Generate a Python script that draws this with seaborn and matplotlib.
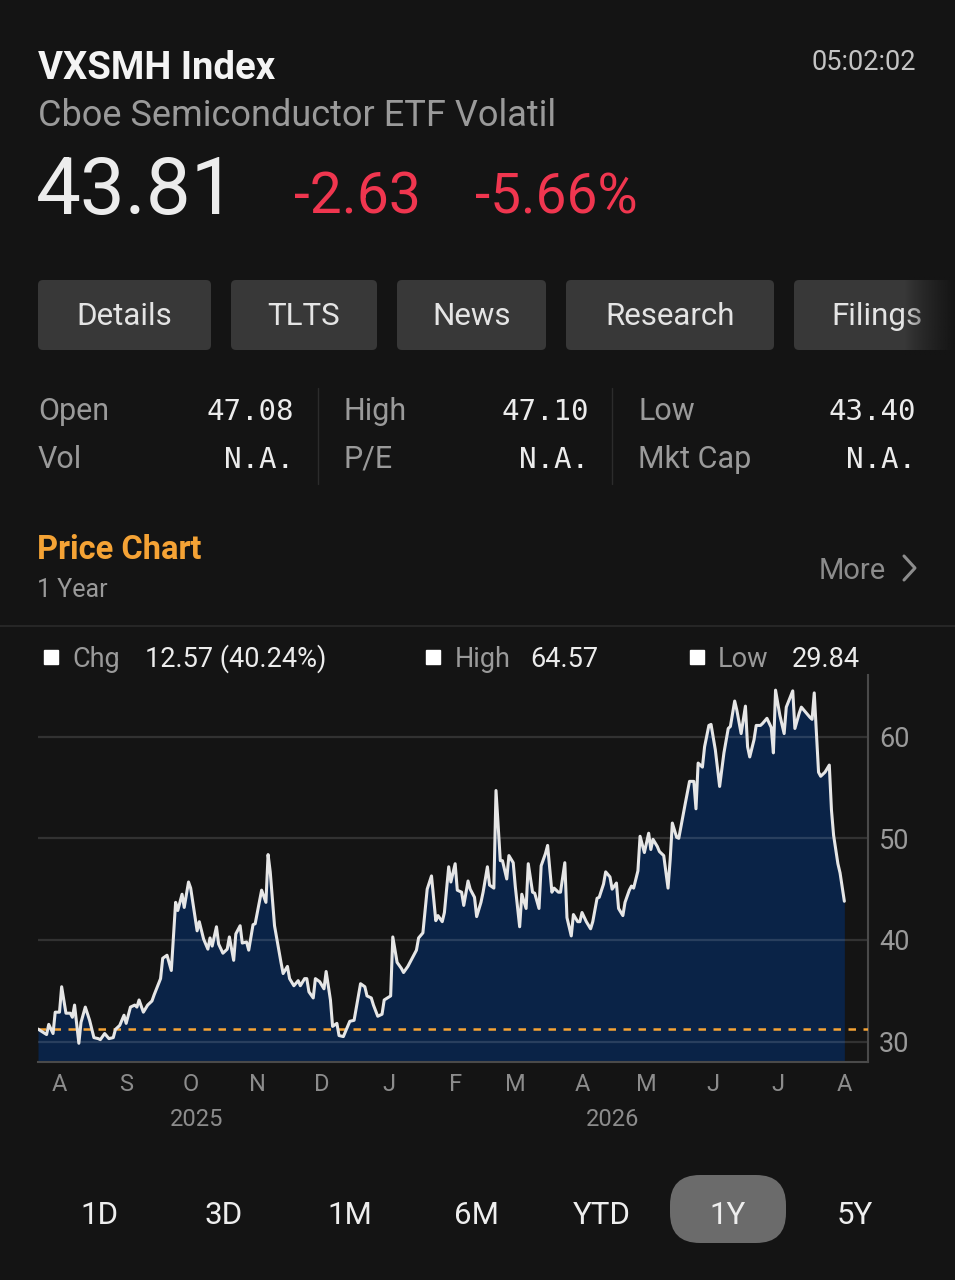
import matplotlib
matplotlib.use("Agg")
import matplotlib.pyplot as plt
import matplotlib.dates as mdates
from matplotlib import font_manager
from matplotlib.patches import FancyBboxPatch, Rectangle
import numpy as np
import pandas as pd
import seaborn as sns

# quote header
ticker = "VXSMH Index"
long_name = "Cboe Semiconductor ETF Volatil"
last_price = "43.81"
net_change = "-2.63"
pct_change = "-5.66%"
clock = "05:02:02"

tabs = ["Details", "TLTS", "News", "Research", "Filings"]

stat_names_top = ["Open", "High", "Low"]
stat_values_top = ["47.08", "47.10", "43.40"]
stat_names_bottom = ["Vol", "P/E", "Mkt Cap"]
stat_values_bottom = ["N.A.", "N.A.", "N.A."]

legend_names = ["Chg", "High", "Low"]
legend_values = ["12.57 (40.24%)", "64.57", "29.84"]

periods = ["1D", "3D", "1M", "6M", "YTD", "1Y", "5Y"]
active_period = "1Y"

# one year of closes, calendar days counted from start_date
start_date = "2025-07-22"
days = [
    0, 4, 5, 7, 8, 10, 11, 13, 15, 16,
    17, 19, 20, 22, 24, 26, 28, 29, 31, 33,
    35, 36, 38, 40, 41, 43, 45, 46, 47, 49,
    51, 53, 54, 57, 58, 60, 62, 64, 65, 67,
    68, 70, 71, 73, 74, 75, 77, 79, 80, 81,
    83, 84, 86, 88, 89, 91, 92, 94, 95, 97,
    98, 100, 101, 104, 106, 107, 108, 110, 113, 114,
    116, 117, 119, 121, 122, 124, 125, 126, 128, 129,
    131, 133, 134, 136, 137, 139, 140, 142, 143, 145,
    147, 148, 150, 152, 153, 155, 156, 158, 160, 161,
    164, 165, 167, 169, 170, 172, 174, 176, 177, 179,
    181, 183, 185, 186, 188, 189, 191, 192, 194, 195,
    197, 198, 200, 201, 203, 204, 206, 207, 209, 210,
    212, 213, 215, 216, 218, 219, 221, 222, 224, 225,
    227, 228, 230, 231, 233, 234, 236, 237, 239, 240,
    242, 243, 245, 246, 248, 249, 251, 252, 253, 255,
    257, 258, 260, 261, 263, 264, 266, 267, 269, 270,
    272, 273, 275, 276, 277, 279, 280, 282, 284, 285,
    286, 288, 289, 291, 293, 294, 295, 297, 298, 301,
    303, 305, 306, 307, 309, 310, 312, 313, 315, 317,
    319, 321, 322, 324, 325, 327, 329, 330, 331, 333,
    334, 336, 337, 339, 341, 342, 343, 345, 347, 348,
    351, 352, 354, 355, 357, 359, 360, 361, 363, 364,
    366, 368, 369, 370, 372, 373, 375,
]
close = [
    31.24, 30.7, 31.7, 30.8, 32.9, 32.9, 35.4, 32.8, 32.8, 32.4,
    33.6, 29.84, 31.9, 33.4, 32.1, 30.4, 30.3, 30.2, 30.8, 30.3,
    30.4, 31.2, 31.6, 32.6, 31.8, 33.4, 33.6, 33.4, 34.1, 32.9,
    33.6, 34.0, 34.6, 36.2, 38.2, 38.5, 37.0, 43.7, 42.9, 44.5,
    43.2, 45.7, 45.1, 42.3, 40.9, 41.8, 40.1, 39.1, 40.2, 39.4,
    41.3, 39.6, 38.7, 39.1, 40.3, 38.0, 40.6, 41.4, 39.7, 39.8,
    39.0, 41.5, 41.6, 44.9, 43.7, 48.4, 46.7, 41.4, 37.8, 36.7,
    37.4, 36.2, 35.5, 36.0, 35.5, 36.2, 36.2, 34.9, 34.3, 36.2,
    35.9, 35.2, 36.9, 34.1, 31.5, 31.8, 30.6, 30.5, 31.0, 32.0,
    32.1, 33.3, 35.7, 35.4, 34.5, 34.3, 33.6, 32.5, 32.7, 34.1,
    34.5, 40.3, 37.8, 37.2, 36.8, 37.4, 38.2, 39.0, 40.2, 40.7,
    45.0, 46.3, 41.9, 42.4, 41.8, 42.7, 47.2, 45.7, 47.5, 44.9,
    44.7, 43.4, 45.8, 45.0, 44.2, 42.3, 43.7, 44.7, 47.2, 45.4,
    45.1, 54.7, 47.8, 47.8, 46.0, 48.3, 47.6, 45.2, 41.3, 44.5,
    43.1, 47.5, 44.7, 44.6, 43.1, 47.3, 48.5, 49.3, 44.7, 45.1,
    44.7, 44.7, 47.6, 42.2, 40.4, 42.5, 41.8, 41.8, 42.7, 41.8,
    41.1, 41.8, 44.1, 44.2, 45.5, 46.7, 46.2, 45.0, 45.6, 43.1,
    42.4, 43.7, 44.9, 45.3, 45.1, 46.8, 50.2, 48.6, 50.5, 48.9,
    49.9, 49.2, 48.7, 48.3, 45.1, 47.9, 51.5, 50.1, 50.0, 53.4,
    55.6, 55.6, 52.9, 57.4, 57.0, 59.0, 61.1, 61.2, 58.7, 55.1,
    58.4, 60.8, 61.0, 63.5, 62.6, 60.3, 63.0, 59.0, 58.0, 59.7,
    61.1, 61.1, 61.3, 61.8, 60.9, 58.4, 64.57, 62.1, 60.3, 62.9,
    64.5, 60.8, 62.3, 62.9, 62.4, 61.9, 61.7, 64.3, 56.5, 56.1,
    56.5, 57.2, 52.8, 50.3, 47.5, 46.6, 43.81,
]
y_ticks = [30, 40, 50, 60]
year_labels = ["2025", "2026"]
year_label_dates = ["2025-10-04", "2026-04-15"]

BG = "#141414"
GRAY = "#9a9a9a"
WHITE = "#ececec"
RED = "#f0364f"
ORANGE = "#f5a335"
NAVY = "#0a2347"

sns.set_style("dark")
installed = {f.name for f in font_manager.fontManager.ttflist}
main_font = "Liberation Sans Narrow" if "Liberation Sans Narrow" in installed else "Roboto"
plt.rcParams["font.family"] = [main_font, "DejaVu Sans"]
MONO = ["DejaVu Sans Mono"]

df = pd.DataFrame({
    "date": pd.Timestamp(start_date) + pd.to_timedelta(days, unit="D"),
    "close": close,
})

fig = plt.figure(figsize=(9.55, 12.8), dpi=100, facecolor=BG)

# page layer in pixel coordinates (y grows downward)
page = fig.add_axes([0, 0, 1, 1])
page.set_xlim(0, 955)
page.set_ylim(1280, 0)
page.axis("off")
page.set_facecolor(BG)

page.text(38, 79, ticker, fontsize=27.5, fontweight="bold", color="#f4f4f4")
page.text(38, 126, long_name, fontsize=26, color=GRAY)
page.text(916, 70, clock, fontsize=19.5, color="#c4c4c4", ha="right")
page.text(36, 214, last_price, fontsize=57.5, color=WHITE)
page.text(294, 214, net_change, fontsize=41, color=RED)
page.text(475, 214, pct_change, fontsize=39.5, color=RED)

# tab buttons
tab_spans = [(38, 211), (231, 377), (397, 546), (566, 774), (794, 975)]
for label, (x0, x1) in zip(tabs, tab_spans):
    page.add_patch(FancyBboxPatch((x0, 280), x1 - x0, 70,
                                  boxstyle="round,pad=0,rounding_size=5",
                                  facecolor="#383838", edgecolor="none"))
    tx = (x0 + x1) / 2 if label != "Filings" else 877
    page.text(tx, 325, label, fontsize=22.5, color="#e4e4e4", ha="center")
fade = np.zeros((1, 60, 4))
fade[..., :3] = np.array([0x14, 0x14, 0x14]) / 255
fade[..., 3] = np.linspace(0, 1, 60) ** 0.8
page.imshow(fade, extent=(905, 955, 355, 275), aspect="auto", zorder=5)

# quote stats
col_left = [38, 343, 638]
col_right = [294, 589, 916]
for i in range(3):
    page.text(col_left[i], 420, stat_names_top[i], fontsize=22, color=GRAY)
    page.text(col_right[i], 420, stat_values_top[i], fontsize=21, color=WHITE,
              ha="right", family=MONO)
    page.text(col_left[i], 468, stat_names_bottom[i], fontsize=22, color=GRAY)
    page.text(col_right[i], 468, stat_values_bottom[i], fontsize=21, color=WHITE,
              ha="right", family=MONO)
for x in [318, 612]:
    page.plot([x, x], [388, 484], color="#2c2c2c", lw=1)

page.text(37, 559, "Price Chart", fontsize=23.5, fontweight="bold", color=ORANGE)
page.text(37, 597, "1 Year", fontsize=18, color=GRAY)
page.text(886, 579, "More", fontsize=21, color="#8c8c8c", ha="right")
page.plot([904, 915, 904], [556, 568, 580], color="#8c8c8c", lw=2.2)
page.plot([0, 955], [626, 626], color="#262626", lw=1.5)

# chart legend row
legend_box_x = [44, 426, 690]
legend_name_x = [72, 455, 718]
legend_value_x = [145, 530, 792]
for i in range(3):
    page.add_patch(Rectangle((legend_box_x[i], 650), 14, 14, color="white"))
    page.text(legend_name_x[i], 667, legend_names[i], fontsize=19.5, color=GRAY)
    page.text(legend_value_x[i], 667, legend_values[i], fontsize=19.5, color=WHITE)

# period selector
period_x = [99, 224, 350, 476, 602, 728, 855]
for label, x in zip(periods, period_x):
    if label == active_period:
        page.add_patch(FancyBboxPatch((670, 1175), 116, 68,
                                      boxstyle="round,pad=0,rounding_size=30",
                                      facecolor="#6b6b6b", edgecolor="none"))
    page.text(x, 1224, label, fontsize=22.5, color="#eeeeee", ha="center")

# price chart
ax = fig.add_axes([38 / 955, 1 - 1062 / 1280, 830 / 955, 387 / 1280])
ax.set_facecolor("none")
ax.fill_between(df["date"], df["close"], 20, color=NAVY, lw=0, zorder=1)
for t in y_ticks:
    ax.axhline(t, color="white", alpha=0.13, lw=1.6, zorder=2)
ax.axhline(df["close"].iloc[0], color=ORANGE, lw=1.8, ls=(0, (3, 3)), zorder=3)
sns.lineplot(data=df, x="date", y="close", ax=ax, color="#e6e6e6", lw=2.2, zorder=4)

ax.set_ylim(28.0, 66.06)
start = pd.Timestamp(start_date)
ax.set_xlim(start, start + pd.Timedelta(days=386))
ax.set_xlabel("")
ax.set_ylabel("")
ax.grid(False)
ax.yaxis.tick_right()
ax.set_yticks(y_ticks)
ax.tick_params(axis="y", length=0, pad=8, labelsize=19.5, labelcolor=GRAY)
ax.xaxis.set_major_locator(mdates.MonthLocator())
ax.xaxis.set_major_formatter(mdates.DateFormatter("%b"))
ax.tick_params(axis="x", length=0, pad=8, labelsize=17, labelcolor="#8c8c8c")
fig.canvas.draw()
ax.set_xticklabels([t.get_text()[0] for t in ax.get_xticklabels()])
for side in ["top", "left"]:
    ax.spines[side].set_visible(False)
for side in ["right", "bottom"]:
    ax.spines[side].set_color("#4a4a4a")
    ax.spines[side].set_linewidth(1.5)
for label, d in zip(year_labels, year_label_dates):
    ax.text(pd.Timestamp(d), -0.165, label, transform=ax.get_xaxis_transform(),
            fontsize=17, color="#8c8c8c", ha="center")

fig.savefig("out.png", dpi=100, facecolor=BG)
